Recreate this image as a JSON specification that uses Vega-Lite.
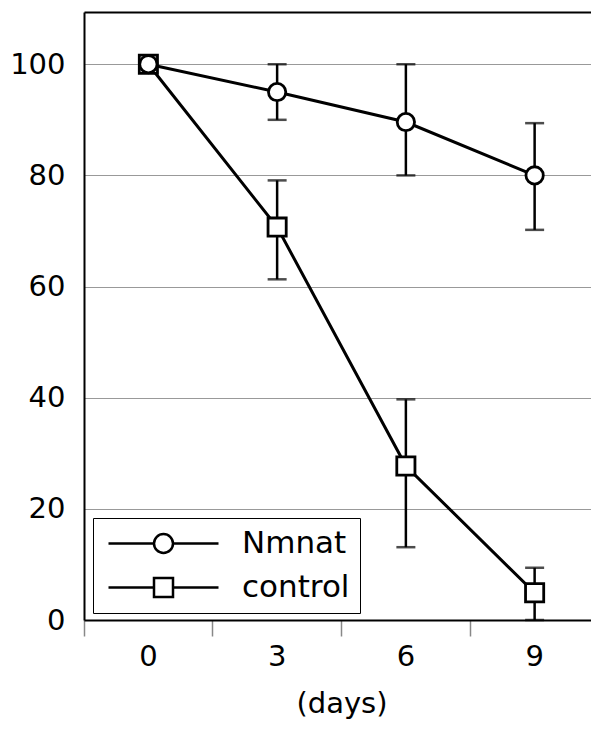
{
  "$schema": "https://vega.github.io/schema/vega-lite/v6.json",
  "width": 507,
  "height": 608,
  "autosize": {"type": "none"},
  "padding": {"left": 84, "top": 12, "right": 0, "bottom": 120},
  "background": "white",
  "config": {
    "view": {"stroke": null},
    "font": "DejaVu Sans",
    "axis": {
      "domainColor": "black",
      "domainWidth": 2,
      "labelFont": "DejaVu Sans",
      "labelFontSize": 29,
      "labelColor": "black",
      "titleFont": "DejaVu Sans",
      "titleFontSize": 29,
      "titleFontWeight": "normal",
      "titleColor": "black"
    }
  },
  "data": {
    "values": [
      {"group": "Nmnat", "day": 0, "mean": 100, "lo": null, "hi": null},
      {"group": "Nmnat", "day": 3, "mean": 95, "lo": 90, "hi": 100},
      {"group": "Nmnat", "day": 6, "mean": 89.6, "lo": 80, "hi": 100},
      {"group": "Nmnat", "day": 9, "mean": 80, "lo": 70.2, "hi": 89.4},
      {"group": "control", "day": 0, "mean": 100, "lo": null, "hi": null},
      {"group": "control", "day": 3, "mean": 70.7, "lo": 61.3, "hi": 79.1},
      {"group": "control", "day": 6, "mean": 27.7, "lo": 13.1, "hi": 39.7},
      {"group": "control", "day": 9, "mean": 4.9, "lo": 0, "hi": 9.4}
    ]
  },
  "encoding": {
    "x": {
      "field": "day",
      "type": "ordinal",
      "sort": [0, 3, 6, 9],
      "scale": {"type": "band", "range": [0, 515], "paddingInner": 0, "paddingOuter": 0},
      "axis": {
        "title": "(days)",
        "bandPosition": 0,
        "labelAngle": 0,
        "tickColor": "#888",
        "tickWidth": 1.5,
        "tickSize": 16,
        "labelPadding": 6,
        "titlePadding": 18,
        "grid": false
      }
    }
  },
  "layer": [
    {
      "transform": [{"filter": "datum.lo != null"}],
      "mark": {"type": "rule", "color": "black", "strokeWidth": 2.5},
      "encoding": {
        "y": {
          "field": "lo",
          "type": "quantitative",
          "scale": {"domain": [0, 109.4], "nice": false, "zero": true},
          "axis": {
            "title": null,
            "values": [0, 20, 40, 60, 80, 100, 109.4],
            "labelExpr": "datum.value > 105 ? '' : datum.label",
            "ticks": false,
            "tickSize": 0,
            "labelPadding": 19,
            "grid": true,
            "gridColor": {"condition": {"test": "datum.value > 105", "value": "black"}, "value": "#999"},
            "gridWidth": {"condition": {"test": "datum.value > 105", "value": 2}, "value": 1}
          }
        },
        "y2": {"field": "hi"}
      }
    },
    {
      "transform": [{"filter": "datum.lo != null"}],
      "mark": {"type": "tick", "color": "black", "size": 19, "thickness": 2.5},
      "encoding": {"y": {"field": "lo", "type": "quantitative"}}
    },
    {
      "transform": [{"filter": "datum.lo != null"}],
      "mark": {"type": "tick", "color": "black", "size": 19, "thickness": 2.5},
      "encoding": {"y": {"field": "hi", "type": "quantitative"}}
    },
    {
      "mark": {"type": "line", "color": "black", "strokeWidth": 3},
      "encoding": {
        "y": {"field": "mean", "type": "quantitative"},
        "detail": {"field": "group"}
      }
    },
    {
      "transform": [{"filter": "datum.group == 'control'"}],
      "mark": {"type": "point", "shape": "square", "filled": true, "fill": "white", "stroke": "black", "strokeWidth": 2.8, "size": 330, "opacity": 1},
      "encoding": {"y": {"field": "mean", "type": "quantitative"}}
    },
    {
      "transform": [{"filter": "datum.group == 'Nmnat'"}],
      "mark": {"type": "point", "shape": "circle", "filled": true, "fill": "white", "stroke": "black", "strokeWidth": 2.8, "size": 300, "opacity": 1},
      "encoding": {"y": {"field": "mean", "type": "quantitative"}}
    },
    {
      "mark": {"type": "point", "filled": false, "opacity": 0, "size": 400},
      "encoding": {
        "y": {"field": "mean", "type": "quantitative"},
        "shape": {
          "field": "group",
          "type": "nominal",
          "scale": {
            "domain": ["Nmnat", "control"],
            "range": [
              "M-5.5,0H-0.95M0.95,0H5.5M0.95,0A0.95,0.95 0 1,1 -0.95,0A0.95,0.95 0 1,1 0.95,0Z",
              "M-5.5,0H-0.95M0.95,0H5.5M-0.95,-0.95H0.95V0.95H-0.95Z"
            ]
          },
          "legend": {
            "orient": "none",
            "legendX": 9,
            "legendY": 506,
            "title": null,
            "strokeColor": "black",
            "padding": 10,
            "symbolOffset": 45,
            "symbolSize": 400,
            "symbolStrokeColor": "black",
            "symbolFillColor": "white",
            "symbolStrokeWidth": 2.5,
            "symbolOpacity": 1,
            "labelFont": "DejaVu Sans",
            "labelFontSize": 31,
            "labelColor": "black",
            "labelOffset": 63,
            "rowPadding": 12
          }
        }
      }
    }
  ]
}
